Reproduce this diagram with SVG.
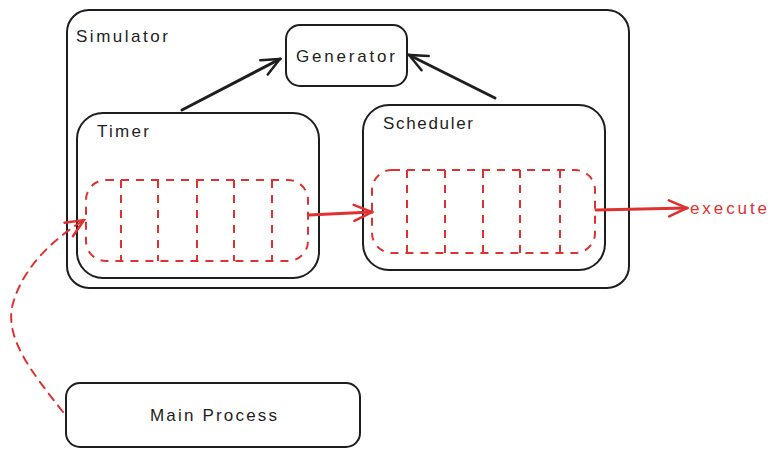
<svg xmlns="http://www.w3.org/2000/svg" width="776" height="456" viewBox="0 0 776 456">
<defs>
<style>
.box{fill:#fff;stroke:#1e1e1e;stroke-width:2}
.q{fill:none;stroke:#e03131;stroke-width:2;stroke-dasharray:8 7}
.lbl{font-family:"Liberation Sans",Arial,sans-serif;font-size:17px;fill:#1e1e1e}
.red{fill:#e03131}
.ab{fill:none;stroke:#1e1e1e;stroke-width:3;stroke-linecap:round}
.ar{fill:none;stroke:#e03131;stroke-width:3;stroke-linecap:round}
.ad{fill:none;stroke:#e03131;stroke-width:2;stroke-dasharray:8 7;stroke-linecap:round}
</style>
<marker id="hb" viewBox="0 0 22 22" refX="20" refY="11" markerWidth="22" markerHeight="22" markerUnits="userSpaceOnUse" orient="auto">
<path d="M2,3 L20,11 L2,19" fill="none" stroke="#1e1e1e" stroke-width="2.5" stroke-linecap="round"/>
</marker>
<marker id="hr" viewBox="0 0 22 22" refX="20" refY="11" markerWidth="22" markerHeight="22" markerUnits="userSpaceOnUse" orient="auto">
<path d="M2,3 L20,11 L2,19" fill="none" stroke="#e03131" stroke-width="2.5" stroke-linecap="round"/>
</marker>
</defs>
<rect width="776" height="456" fill="#fff"/>
<g id="simulator">
<rect class="box" x="67" y="10" width="562" height="278" rx="22"/>
<text class="lbl" x="76" y="42" textLength="92" lengthAdjust="spacing">Simulator</text>
</g>
<g id="generator">
<rect class="box" x="286" y="25" width="121" height="61" rx="14"/>
<text class="lbl" x="296" y="62" textLength="99" lengthAdjust="spacing">Generator</text>
</g>
<g id="timer">
<rect class="box" x="77" y="113" width="242" height="165" rx="26"/>
<text class="lbl" x="97" y="137" textLength="52" lengthAdjust="spacing">Timer</text>
</g>
<g id="timer-queue">
<rect class="q" x="86" y="180" width="222" height="81" rx="20"/>
<path class="q" d="M121,180V261M158,180V261M197,180V261M234,180V261M272,180V261"/>
</g>
<g id="scheduler">
<rect class="box" x="363" y="105" width="242" height="165" rx="26"/>
<text class="lbl" x="383" y="129" textLength="90" lengthAdjust="spacing">Scheduler</text>
</g>
<g id="scheduler-queue">
<rect class="q" x="372" y="170" width="223" height="83" rx="20"/>
<path class="q" d="M407,170V253M445,170V253M483,170V253M520,170V253M560,170V253"/>
</g>
<g id="main-process">
<rect class="box" x="66" y="383" width="294" height="64" rx="14"/>
<text class="lbl" x="150" y="421" textLength="127" lengthAdjust="spacing">Main Process</text>
</g>
<g id="execute">
<text class="lbl" x="690" y="214" textLength="77" lengthAdjust="spacing" style="fill:#e03131">execute</text>
</g>
<g id="connectors">
<path class="ab" d="M182,110 L280,59" marker-end="url(#hb)"/>
<path class="ab" d="M495,98 L409,55" marker-end="url(#hb)"/>
<path class="ar" d="M309,215 L372,212" marker-end="url(#hr)"/>
<path class="ar" d="M596,210 L687,208" marker-end="url(#hr)"/>
<path class="ad" d="M63,412 C30,370 2,335 14,300 C25,265 55,238 84,220" marker-end="url(#hr)"/>
</g>
</svg>
